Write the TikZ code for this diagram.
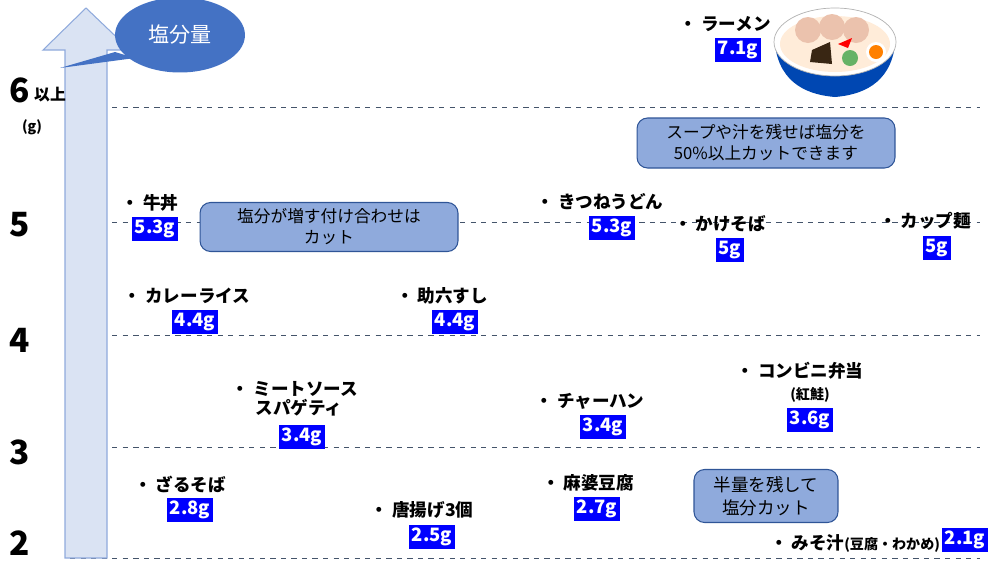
\documentclass[tikz,border=0pt]{standalone}
\usepackage{fontspec}
\setmainfont{Noto Sans CJK JP}
\usetikzlibrary{shapes.geometric}
\definecolor{grid}{HTML}{44546A}
\definecolor{arrowf}{HTML}{DAE3F3}
\definecolor{arrowd}{HTML}{8FAADC}
\definecolor{callout}{HTML}{4472C4}
\definecolor{boxf}{HTML}{8FAADC}
\definecolor{boxd}{HTML}{2F5597}
\begin{document}
\begin{tikzpicture}[x=0.02cm,y=-0.02cm,
  gline/.style={draw=grid,dashed,line width=0.5pt},
  item/.style={font=\bfseries\fontsize{10}{11}\selectfont,align=center,inner sep=1pt},
  val/.style={fill=blue,text=white,font=\bfseries\fontsize{10.5}{11}\selectfont,inner sep=1.5pt},
  note/.style={draw=boxd,fill=boxf,rounded corners=6pt,align=center,font=\fontsize{9.5}{12}\selectfont,line width=0.6pt},
  axl/.style={font=\bfseries\fontsize{19}{20}\selectfont,inner sep=0pt}]
\useasboundingbox (0,0) rectangle (1000,562);
% grid lines
\foreach \yy in {107,222,335,447,558}{\draw[gline] (70,\yy) -- (980,\yy);}
% arrow
\draw[draw=arrowd,fill=arrowf,line width=0.6pt] (65,558) -- (65,50) -- (43,50) -- (86,8) -- (130,50) -- (107,50) -- (107,558) -- cycle;
% callout
\fill[callout] (115,52) -- (60,68) -- (135,58) -- cycle;
\node[ellipse,fill=callout,minimum width=130\pgflinewidth,minimum width=2.6cm,minimum height=1.5cm,text=white,font=\fontsize{12}{13}\selectfont] (co) at (180,35) {塩分量};
% axis labels
\node[axl] (a6) at (20,90) {6};
\node[font=\bfseries\fontsize{9}{10}\selectfont,inner sep=0pt] (a6b) at (50,95) {以上};
\node[font=\bfseries\fontsize{8}{9}\selectfont] (ag) at (32,127) {(g)};
\node[axl] (a5) at (20,225) {5};
\node[axl] (a4) at (20,340) {4};
\node[axl] (a3) at (20,452) {3};
\node[axl] (a2) at (20,543) {2};
% notes
\node[note,minimum width=5.16cm,minimum height=0.98cm] (n1) at (329,227) {塩分が増す付け合わせは\\カット};
\node[note,minimum width=5.16cm,minimum height=1.0cm] (n2) at (766,143) {スープや汁を残せば塩分を\\50\%以上カットできます};
\node[note,minimum width=2.88cm,minimum height=1.06cm,font=\fontsize{10}{13}\selectfont] (n3) at (766,496) {半量を残して\\塩分カット};
% items
\node[item] (t1) at (725,24) {・ ラーメン}; \node[val] (v1) at (738,50) {7.1g};
\node[item] (t2) at (150,203) {・ 牛丼}; \node[val] (v2) at (155,229) {5.3g};
\node[item] (t3) at (187,296) {・ カレーライス}; \node[val] (v3) at (195,322) {4.4g};
\node[item] (t4) at (442,296) {・ 助六すし}; \node[val] (v4) at (455,322) {4.4g};
\node[item] (t5) at (295,399) {・ ミートソース\\\ \ スパゲティ}; \node[val] (v5) at (302,437) {3.4g};
\node[item] (t6) at (180,484) {・ ざるそば}; \node[val] (v6) at (190,510) {2.8g};
\node[item] (t7) at (422,510) {・ 唐揚げ3個}; \node[val] (v7) at (432,537) {2.5g};
\node[item] (t8) at (600,202) {・ きつねうどん}; \node[val] (v8) at (612,228) {5.3g};
\node[item] (t9) at (720,224) {・ かけそば}; \node[val] (v9) at (730,250) {5g};
\node[item] (t10) at (925,221) {・ カップ麺}; \node[val] (v10) at (937,248) {5g};
\node[item] (t11) at (590,401) {・ チャーハン}; \node[val] (v11) at (603,427) {3.4g};
\node[item] (t12) at (588,483) {・ 麻婆豆腐}; \node[val] (v12) at (597,509) {2.7g};
\node[item] (t13) at (800,371) {・ コンビニ弁当}; \node[item,font=\bfseries\fontsize{8}{9}\selectfont] (t13b) at (810,395) {(紅鮭)}; \node[val] (v13) at (810,420) {3.6g};
\node[item] (t14) at (855,543) {・ みそ汁{\fontsize{8}{9}\selectfont (豆腐・わかめ)}}; \node[val] (v14) at (965,540) {2.1g};
% ramen bowl
\fill[blue!60!cyan!70!black] (775,45) .. controls (780,85) and (810,95) .. (835,97) .. controls (860,95) and (890,85) .. (895,45) -- cycle;
\fill[white] (775,45) .. controls (778,60) and (790,68) .. (835,70) .. controls (880,68) and (892,60) .. (895,45) -- cycle;
\draw[gray!60,fill=white] (835,42) ellipse (61 and 34);
\fill[orange!15!white] (835,44) ellipse (55 and 28);
\fill[red!20!brown!40!white] (808,30) circle (13); \fill[red!20!brown!40!white] (832,27) circle (13); \fill[red!20!brown!40!white] (856,30) circle (13);
\fill[black!70!brown] (812,50) -- (830,42) -- (832,64) -- (810,62) -- cycle;
\fill[green!50!black!60] (850,58) circle (8);
\fill[red] (838,44) -- (852,38) -- (848,48) -- cycle;
\fill[white] (876,52) circle (10); \fill[orange] (876,52) circle (7);
\end{tikzpicture}
\end{document}
